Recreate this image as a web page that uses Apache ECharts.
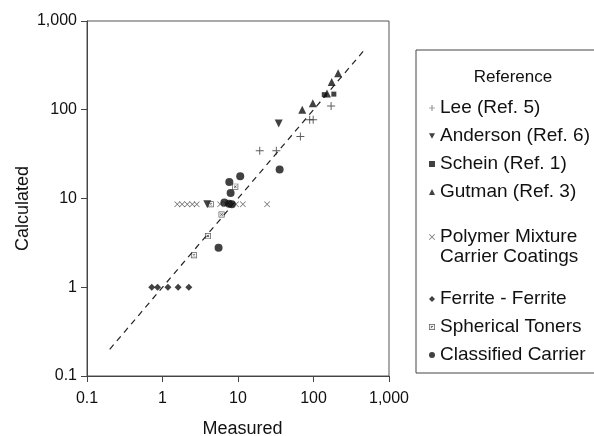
<!DOCTYPE html>
<html>
<head>
<meta charset="utf-8">
<script src="https://cdn.jsdelivr.net/npm/echarts@6/dist/echarts.min.js"></script>
<style>
  html, body { margin: 0; padding: 0; background: #fff; }
  #chart { width: 594px; height: 436px; }
</style>
</head>
<body>
<div id="chart"></div>
<script>
// [measured, calculated]
const leeData = [[19.4, 34.6], [32.2, 34.6], [67, 50], [89, 77], [99, 77], [171, 110]];
const andersonData = [[34.6, 70], [3.92, 8.6]];
const scheinData = [[139, 148], [186, 150]];
const gutmanData = [[71, 100], [98, 118], [151, 152], [174, 205], [212, 258]];
const polymerData = [[1.57, 8.6], [1.82, 8.6], [2.13, 8.6], [2.48, 8.6], [2.84, 8.6],
  [5.8, 8.6], [7.0, 8.6], [9.4, 8.6], [11.6, 8.6], [24.3, 8.6]];
const ferriteData = [[0.72, 1], [0.86, 1], [1.18, 1], [1.61, 1], [2.23, 1]];
const sphericalData = [[2.61, 2.29], [4.0, 3.77], [6.06, 6.6], [9.2, 13.6], [4.36, 8.6]];
const classifiedData = [[35.6, 21.2], [10.7, 17.8], [7.67, 15.3], [7.98, 11.5], [5.53, 2.79],
  [6.6, 9.0], [7.6, 8.7], [8.3, 8.6]];
const fitLine = [[0.2, 0.2], [500, 500]];

const plusPath = 'path://M4.4,0H5.6V4.4H10V5.6H5.6V10H4.4V5.6H0V4.4H4.4Z';
const crossPath = 'path://M0.8,0L5,4.2L9.2,0L10,0.8L5.8,5L10,9.2L9.2,10L5,5.8L0.8,10L0,9.2L4.2,5L0,0.8Z';
const downTriPath = 'path://M0,0H10L5,9Z';
const boxedPath = 'path://M0,0H10V10H0Z M1.2,1.2V8.8H8.8V1.2Z M2.5,3.3L3.3,2.5L7.5,6.7L6.7,7.5Z M6.7,2.5L7.5,3.3L3.3,7.5L2.5,6.7Z';

const FONT = '"Liberation Sans", Arial, sans-serif';
const INK = '#111';

const chart = echarts.init(document.getElementById('chart'));

function scatter(name, data, symbol, size, color) {
  return {
    name: name,
    type: 'scatter',
    data: data,
    symbol: symbol,
    symbolSize: size,
    itemStyle: { color: color || INK },
    z: 3,
  };
}

const legendBase = {
  orient: 'vertical',
  left: 429,
  padding: 0,
  itemWidth: 6,
  itemHeight: 6,
  itemGap: 8,
  selectedMode: false,
  textStyle: { fontFamily: FONT, fontSize: 19, color: INK, lineHeight: 20 },
};

const option = {
  backgroundColor: '#fff',
  animation: false,
  textStyle: { fontFamily: FONT },
  grid: {
    left: 87,
    right: 205,
    top: 21,
    bottom: 60,
    show: true,
    borderColor: '#555',
    borderWidth: 1,
    outerBoundsMode: 'none',
    containLabel: false,
  },
  xAxis: {
    type: 'log',
    logBase: 10,
    min: 0.1,
    max: 1000,
    name: 'Measured',
    nameLocation: 'middle',
    nameGap: 44,
    nameTextStyle: { fontSize: 18, color: INK, fontFamily: FONT, padding: [0, 0, 0, 9] },
    axisLine: { lineStyle: { color: '#444', width: 1 } },
    axisTick: { length: 6, lineStyle: { color: '#444' } },
    minorTick: { show: false },
    splitLine: { show: false },
    axisLabel: {
      fontSize: 16,
      color: INK,
      margin: 15,
      formatter: (v) => Number(v).toLocaleString('en-US'),
    },
  },
  yAxis: {
    type: 'log',
    logBase: 10,
    min: 0.1,
    max: 1000,
    name: 'Calculated',
    nameLocation: 'middle',
    nameGap: 55,
    nameMoveOverlap: false,
    nameRotate: 90,
    nameTextStyle: { fontSize: 18, color: INK, fontFamily: FONT, padding: [0, 20, 0, 0] },
    axisLine: { lineStyle: { color: '#444', width: 1 } },
    axisTick: { length: 6, lineStyle: { color: '#444' } },
    splitLine: { show: false },
    axisLabel: {
      fontSize: 16,
      color: INK,
      margin: 10,
      formatter: (v) => Number(v).toLocaleString('en-US'),
    },
  },
  legend: [
    Object.assign({}, legendBase, {
      top: 98,
      data: ['Lee (Ref. 5)', 'Anderson (Ref. 6)', 'Schein (Ref. 1)', 'Gutman (Ref. 3)'],
    }),
    Object.assign({}, legendBase, {
      top: 227,
      data: ['Polymer Mixture Carrier Coatings'],
      formatter: () => 'Polymer Mixture',
    }),
    Object.assign({}, legendBase, {
      top: 289,
      data: ['Ferrite - Ferrite', 'Spherical Toners', 'Classified Carrier'],
    }),
  ],
  graphic: [
    {
      type: 'rect',
      shape: { x: 416, y: 50, width: 200, height: 323 },
      style: { fill: 'none', stroke: '#444', lineWidth: 1 },
      silent: true,
    },
    {
      type: 'text',
      x: 513,
      y: 77,
      style: {
        text: 'Reference',
        fontFamily: FONT,
        fontSize: 17,
        fill: INK,
        textAlign: 'center',
        textVerticalAlign: 'middle',
      },
      silent: true,
    },
    {
      type: 'text',
      x: 440,
      y: 257,
      style: {
        text: 'Carrier Coatings',
        fontFamily: FONT,
        fontSize: 19,
        fill: INK,
        textAlign: 'left',
        textVerticalAlign: 'middle',
      },
      silent: true,
    },
  ],
  series: [
    {
      name: 'fit',
      type: 'line',
      data: fitLine,
      symbol: 'none',
      lineStyle: { color: '#222', width: 1.2, type: [6, 5] },
      z: 2,
      silent: true,
    },
    scatter('Lee (Ref. 5)', leeData, plusPath, 8, '#333'),
    scatter('Anderson (Ref. 6)', andersonData, downTriPath, 8),
    scatter('Schein (Ref. 1)', scheinData, 'rect', 5),
    scatter('Gutman (Ref. 3)', gutmanData, 'triangle', 8),
    scatter('Polymer Mixture Carrier Coatings', polymerData, crossPath, 6, '#444'),
    scatter('Ferrite - Ferrite', ferriteData, 'diamond', 7),
    scatter('Spherical Toners', sphericalData, boxedPath, 6, '#333'),
    scatter('Classified Carrier', classifiedData, 'circle', 8),
  ],
};

chart.setOption(option);
</script>
</body>
</html>
